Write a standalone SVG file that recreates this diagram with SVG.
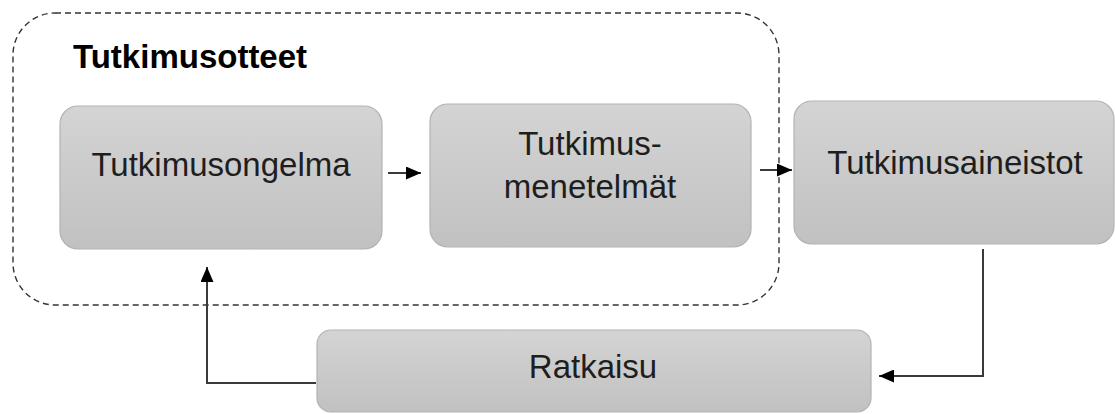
<svg xmlns="http://www.w3.org/2000/svg" width="1115" height="414" viewBox="0 0 1115 414">
<style>
.box{fill:url(#g);stroke:#b3b3b3;stroke-width:1.2}
.lbl{font-family:"Liberation Sans",Arial,sans-serif;font-size:33px;fill:#1e1e1e;text-anchor:middle}
.ttl{font-family:"Liberation Sans",Arial,sans-serif;font-size:33px;font-weight:bold;fill:#000}
.con{fill:none;stroke:#3a3a3a;stroke-width:2}
</style>
<defs>
<linearGradient id="g" x1="0" y1="0" x2="0" y2="1">
<stop offset="0" stop-color="#d4d4d4"/>
<stop offset="1" stop-color="#c1c1c1"/>
</linearGradient>
<marker id="ah" viewBox="0 0 15 13" refX="15" refY="6.5" markerWidth="15" markerHeight="13" markerUnits="userSpaceOnUse" orient="auto">
<path d="M0,0 L15,6.5 L0,13 Z" fill="#000"/>
</marker>
</defs>
<g id="container">
<rect x="13" y="13" width="766" height="292" rx="42" ry="42" fill="none" stroke="#333" stroke-width="1.4" stroke-dasharray="6,4"/>
<text class="ttl" x="73" y="68">Tutkimusotteet</text>
</g>
<g id="n1">
<rect class="box" x="60" y="106" width="322" height="143" rx="18"/>
<text class="lbl" x="221" y="176">Tutkimusongelma</text>
</g>
<g id="n2">
<rect class="box" x="430" y="104" width="321" height="143" rx="18"/>
<text class="lbl" x="590" y="155">Tutkimus-</text>
<text class="lbl" x="590" y="198">menetelmät</text>
</g>
<g id="n3">
<rect class="box" x="794" y="101" width="320" height="143" rx="18"/>
<text class="lbl" x="955" y="174">Tutkimusaineistot</text>
</g>
<g id="n4">
<rect class="box" x="317" y="330" width="554" height="82" rx="14"/>
<text class="lbl" x="593" y="378">Ratkaisu</text>
</g>
<g id="connectors">
<path class="con" d="M388,173 H421" marker-end="url(#ah)"/>
<path class="con" d="M760,170 H792" marker-end="url(#ah)"/>
<path class="con" d="M983,249 V376 H879" marker-end="url(#ah)"/>
<path class="con" d="M316,383 H207 V267" marker-end="url(#ah)"/>
</g>
</svg>
